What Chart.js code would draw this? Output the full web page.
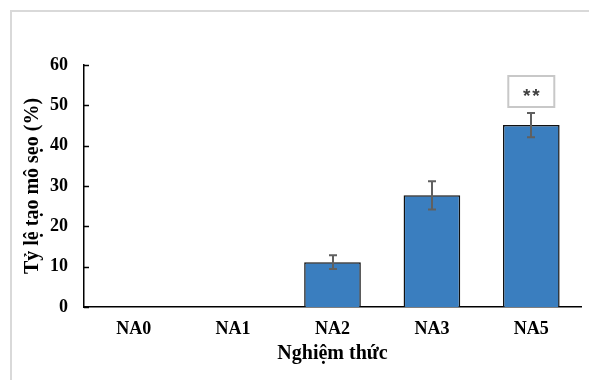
<!DOCTYPE html>
<html>
<head>
<meta charset="utf-8">
<script src="https://cdn.jsdelivr.net/npm/chart.js@4/dist/chart.umd.min.js"></script>
<style>
html,body{margin:0;padding:0;background:#fff;}
#wrap{width:589px;height:380px;position:relative;}
</style>
</head>
<body>
<div id="wrap"><canvas id="c" width="589" height="380"></canvas></div>
<script>
const categories = ["NA0", "NA1", "NA2", "NA3", "NA5"];
const rates = [0, 0, 11.1, 27.7, 45.1];
const errors = [0, 0, 1.7, 3.5, 3.0];
const significance = ["", "", "", "", "**"];
const yTicks = [0, 10, 20, 30, 40, 50, 60];
const yTitle = "Tỷ lệ tạo mô sẹo (%)";
const xTitle = "Nghiệm thức";

const serif = "'Liberation Serif', 'Times New Roman', serif";

const decor = {
  id: 'decor',
  beforeDraw(chart) {
    const ctx = chart.ctx;
    ctx.save();
    ctx.fillStyle = '#fff';
    ctx.fillRect(0, 0, chart.width, chart.height);
    ctx.strokeStyle = '#d9d9d9';
    ctx.lineWidth = 2;
    ctx.beginPath();
    ctx.moveTo(11, chart.height);
    ctx.lineTo(11, 11);
    ctx.lineTo(chart.width, 11);
    ctx.stroke();
    ctx.restore();
  },
  afterDatasetsDraw(chart) {
    const ctx = chart.ctx;
    const y = chart.scales.y;
    const x = chart.scales.x;
    const meta = chart.getDatasetMeta(0);
    ctx.save();
    ctx.strokeStyle = '#000';
    ctx.lineWidth = 1.5;
    yTicks.forEach(v => {
      const py = Math.round(y.getPixelForValue(v)) + 0.5;
      ctx.beginPath();
      ctx.moveTo(x.left, py);
      ctx.lineTo(x.left + 5, py);
      ctx.stroke();
    });
    ctx.strokeStyle = '#606060';
    ctx.lineWidth = 2;
    meta.data.forEach((bar, i) => {
      if (!errors[i]) return;
      const cx = Math.round(bar.x);
      const top = y.getPixelForValue(rates[i] + errors[i]);
      const bot = y.getPixelForValue(rates[i] - errors[i]);
      ctx.beginPath();
      ctx.moveTo(cx, top); ctx.lineTo(cx, bot);
      ctx.moveTo(cx - 4, top); ctx.lineTo(cx + 4, top);
      ctx.moveTo(cx - 4, bot); ctx.lineTo(cx + 4, bot);
      ctx.stroke();
    });
    meta.data.forEach((bar, i) => {
      if (!significance[i]) return;
      const cx = bar.x;
      const top = y.getPixelForValue(rates[i] + errors[i]);
      const bh = 31, bw = 46;
      const by = top - 6 - bh;
      ctx.fillStyle = '#fff';
      ctx.fillRect(cx - bw / 2, by, bw, bh);
      ctx.strokeStyle = '#c8c8c8';
      ctx.lineWidth = 2;
      ctx.strokeRect(cx - bw / 2, by, bw, bh);
      ctx.fillStyle = '#404040';
      ctx.font = "bold 19px 'Liberation Sans', Arial, sans-serif";
      ctx.textAlign = 'center';
      ctx.textBaseline = 'middle';
      try { ctx.letterSpacing = '2px'; } catch (e) {}
      ctx.fillText(significance[i], cx + 1, by + bh / 2 + 5);
    });
    ctx.restore();
  }
};

new Chart(document.getElementById('c'), {
  type: 'bar',
  data: {
    labels: categories,
    datasets: [{
      data: rates,
      backgroundColor: '#3a7ebf',
      borderColor: '#111',
      borderWidth: 1.5,
      barPercentage: 0.57,
      categoryPercentage: 1.0
    }]
  },
  options: {
    responsive: false,
    animation: false,
    layout: { padding: { top: 65, right: 8, bottom: 10, left: 0 } },
    plugins: { legend: { display: false }, tooltip: { enabled: false } },
    scales: {
      x: {
        grid: { display: false, drawTicks: false },
        border: { display: true, color: '#000', width: 1.5 },
        ticks: { color: '#000', font: { family: serif, size: 18, weight: 'bold' }, padding: 12 },
        title: { display: true, text: xTitle, color: '#000', font: { family: serif, size: 20, weight: 'bold' }, padding: { top: 6 } },
        afterFit(s) { s.height = 63; }
      },
      y: {
        min: 0, max: 60,
        afterBuildTicks(s) { s.ticks = yTicks.map(v => ({ value: v })); },
        grid: { display: false, drawTicks: false },
        border: { display: true, color: '#000', width: 1.5 },
        ticks: { color: '#000', font: { family: serif, size: 18, weight: 'bold' }, padding: 16 },
        title: { display: true, text: yTitle, color: '#000', font: { family: serif, size: 20, weight: 'bold' }, padding: { top: 21, bottom: 0 } },
        afterFit(s) { s.width = 84; }
      }
    }
  },
  plugins: [decor]
});
</script>
</body>
</html>
